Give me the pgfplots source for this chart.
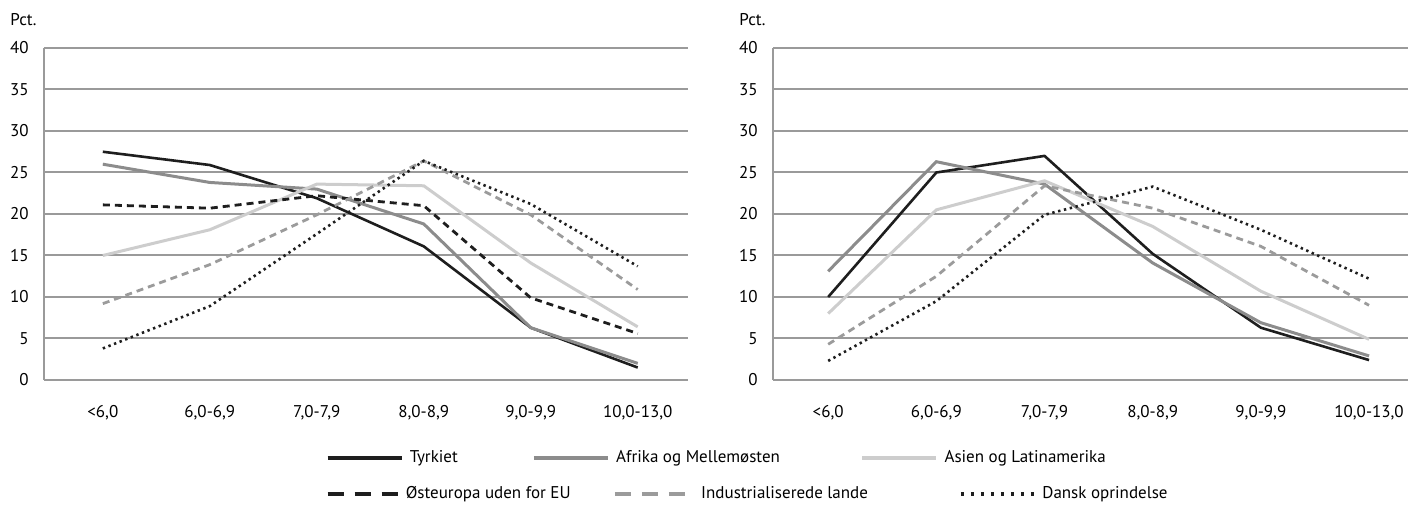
\documentclass[border=0pt]{standalone}
\usepackage{fontspec}
\setmainfont{PT Sans}
\usepackage{pgfplots}
\pgfplotsset{compat=1.18}
\usepackage{pgfplotstable}

\definecolor{cblack}{HTML}{1E1E1E}
\definecolor{cmid}{HTML}{8C8C8C}
\definecolor{clight}{HTML}{CDCDCD}
\definecolor{cdash}{HTML}{9B9B9B}
\definecolor{cgrid}{HTML}{9A9A9A}

% venstre figur
\pgfplotstableread{
x tyr afr asi ost ind dan
0 27.5 26.0 15.0 21.1 9.2 3.8
1 25.9 23.8 18.1 20.7 13.9 8.9
2 21.9 23.0 23.6 22.2 19.9 17.6
3 16.1 18.8 23.4 21.0 26.4 26.4
4 6.3 6.3 14.1 9.9 19.9 21.2
5 1.5 2.0 6.4 5.6 10.9 13.7
}\venstre

% hoejre figur
\pgfplotstableread{
x tyr afr asi ind dan
0 10.0 13.1 8.0 4.3 2.3
1 25.0 26.3 20.5 12.5 9.5
2 27.0 23.6 24.0 23.4 19.9
3 15.2 14.1 18.5 20.7 23.3
4 6.3 6.9 10.7 16.1 18.1
5 2.4 2.9 4.9 9.0 12.2
}\hoejre

\pgfplotsset{
  tyr/.style={cblack, line width=1.3pt,
    legend image code/.code={\draw[cblack, line width=2.2pt] (0pt,0pt) -- (37pt,0pt);}},
  afr/.style={cmid, line width=1.5pt,
    legend image code/.code={\draw[cmid, line width=2.2pt] (0pt,0pt) -- (37pt,0pt);}},
  asi/.style={clight, line width=1.5pt,
    legend image code/.code={\draw[clight, line width=2.2pt] (0pt,0pt) -- (37pt,0pt);}},
  ost/.style={cblack, line width=1.4pt, dash pattern=on 3.5pt off 2.5pt,
    legend image code/.code={\draw[cblack, line width=2.2pt, dash pattern=on 8pt off 5.5pt] (0pt,0pt) -- (35pt,0pt);}},
  ind/.style={cdash, line width=1.4pt, dash pattern=on 3.5pt off 2.5pt,
    legend image code/.code={\draw[cdash, line width=2.2pt, dash pattern=on 8pt off 5.5pt] (0pt,0pt) -- (35pt,0pt);}},
  dan/.style={cblack, line width=1.3pt, dash pattern=on 1.2pt off 1.8pt,
    legend image code/.code={\draw[cblack, line width=1.6pt, dash pattern=on 1.5pt off 3.5pt] (0pt,0pt) -- (37pt,0pt);}},
  panel/.style={
    scale only axis, height=166pt,
    ymin=0, ymax=40, ytick={0,5,...,40},
    xtick={0,...,5},
    xticklabels={{<6,0},{6,0-6,9},{7,0-7,9},{8,0-8,9},{9,0-9,9},{10,0-13,0}},
    axis lines=left, axis line style={cgrid, line width=1pt, -},
    ymajorgrids, major grid style={cgrid, line width=1pt},
    major tick length=0pt, tick style={draw=none},
    clip mode=individual,
    /pgf/number format/assume math mode=true,
    yticklabel style={inner sep=0pt, anchor=east, xshift=-7.5pt},
    xticklabel style={inner sep=0pt, anchor=base, yshift=-19pt},
    legend columns=3, legend cell align=left,
  },
}

\begin{document}
\begin{tikzpicture}[font=\fontsize{8.5}{10}\selectfont]
\path[use as bounding box] (-22pt,-63.5pt) rectangle (682pt,190pt);

\begin{axis}[panel, at={(0pt,0pt)}, anchor=south west,
  width=322pt, xmin=-0.55, xmax=5.47,
  legend style={at={(axis description cs:0.4363,-0.2349)}, anchor=west,
    draw=none, fill=none, inner sep=0pt, nodes={inner sep=0pt},
    /tikz/every odd column/.append style={column sep=3pt}},
]
  \addplot[tyr] table[x=x, y=tyr] {\venstre};
  \addplot[afr] table[x=x, y=afr] {\venstre};
  \addplot[asi] table[x=x, y=asi] {\venstre};
  \addplot[ost] table[x=x, y=ost] {\venstre};
  \addplot[ind] table[x=x, y=ind] {\venstre};
  \addplot[dan] table[x=x, y=dan] {\venstre};
  \legend{{\makebox[61pt][l]{Tyrkiet}},{\makebox[122pt][l]{Afrika og Mellemøsten}},{Asien og Latinamerika}}
  \node[anchor=west, inner sep=0pt, xshift=-17pt, yshift=14pt] at (axis description cs:0,1) {Pct.};
\end{axis}

\begin{axis}[panel, at={(364.5pt,0pt)}, anchor=south west,
  width=317.5pt, xmin=-0.51, xmax=5.36,
  legend style={at={(axis description cs:-0.7055,-0.3434)}, anchor=west,
    draw=none, fill=none, inner sep=0pt, nodes={inner sep=0pt},
    /tikz/every odd column/.append style={column sep=3pt}},
]
  \addlegendimage{ost}
  \addplot[tyr, forget plot] table[x=x, y=tyr] {\hoejre};
  \addplot[afr, forget plot] table[x=x, y=afr] {\hoejre};
  \addplot[asi, forget plot] table[x=x, y=asi] {\hoejre};
  \addplot[ind] table[x=x, y=ind] {\hoejre};
  \addplot[dan] table[x=x, y=dan] {\hoejre};
  \legend{{\makebox[103.5pt][l]{Østeuropa uden for EU}},{\makebox[133pt][l]{\hspace{4pt}Industrialiserede lande}},{Dansk oprindelse}}
  \node[anchor=west, inner sep=0pt, xshift=-17pt, yshift=14pt] at (axis description cs:0,1) {Pct.};
\end{axis}
\end{tikzpicture}
\end{document}
